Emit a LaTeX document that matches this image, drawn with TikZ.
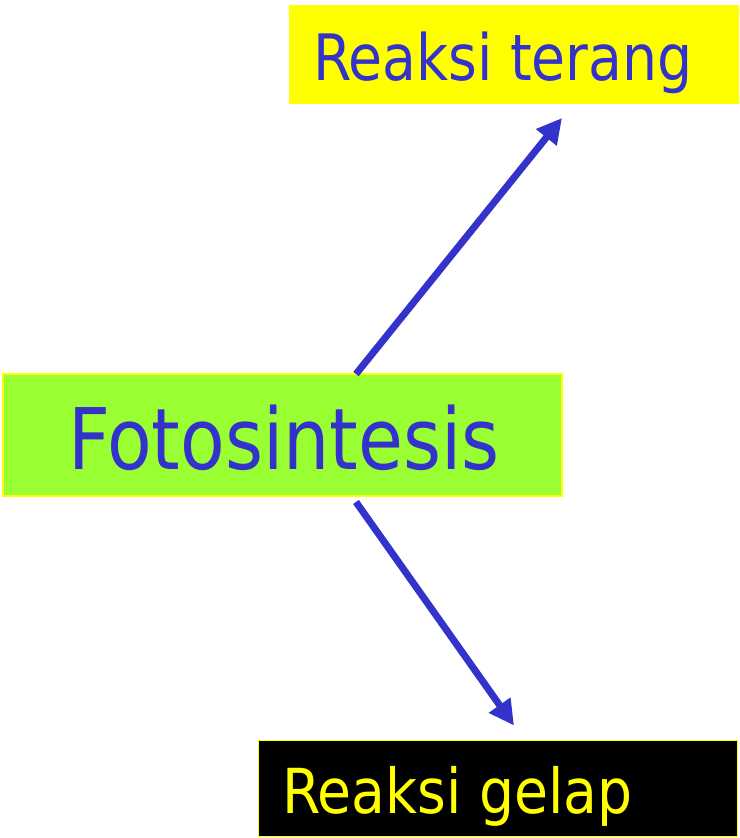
\documentclass[tikz,border=0pt]{standalone}
\usepackage{graphicx}
\usepackage{fontspec}
\setmainfont{DejaVu Sans Condensed}
\usetikzlibrary{arrows.meta}
\definecolor{inkblue}{HTML}{3333CC}
\definecolor{leafgreen}{HTML}{99FF33}
\definecolor{sunyellow}{HTML}{FFFF00}
\tikzset{
  x=1pt, y=-1pt,
  box/.style={rectangle, inner sep=0pt, outer sep=0pt, anchor=north west},
  label/.style={inner sep=0pt, outer sep=0pt, anchor=base west},
  flow/.style={draw=inkblue, line width=7pt, -{Triangle[length=25pt,width=25pt]}},
}
\begin{document}
\begin{tikzpicture}
\useasboundingbox (0,0) rectangle (739,838);
% boxes
\node[box, fill=sunyellow, minimum width=450pt, minimum height=99pt] (light) at (289,5) {};
\node[box, fill=leafgreen, draw=sunyellow, line width=2pt, minimum width=559pt, minimum height=122pt] (photo) at (3,374) {};
\node[box, fill=black, draw=sunyellow, line width=1pt, minimum width=479pt, minimum height=96pt] (dark) at (258.5,740.5) {};
% labels
\node[label, text=inkblue, font=\fontsize{64}{70}\selectfont] (lighttxt) at (313,80) {\scalebox{0.96}[1]{Reaksi terang}};
\node[label, text=inkblue, font=\fontsize{85}{90}\selectfont] (phototxt) at (68,469) {\scalebox{0.955}[1]{Fotosintesis}};
\node[label, text=sunyellow, font=\fontsize{62}{68}\selectfont] (darktxt) at (282,813) {\scalebox{0.99}[1]{Reaksi gelap}};
% connectors
\draw[flow] ([xshift=73.5pt]photo.north) -- ([xshift=48pt,yshift=-14pt]light.south);
\draw[flow] ([xshift=73.5pt,yshift=-6pt]photo.south) -- ([xshift=16pt,yshift=15pt]dark.north);
\end{tikzpicture}
\end{document}
